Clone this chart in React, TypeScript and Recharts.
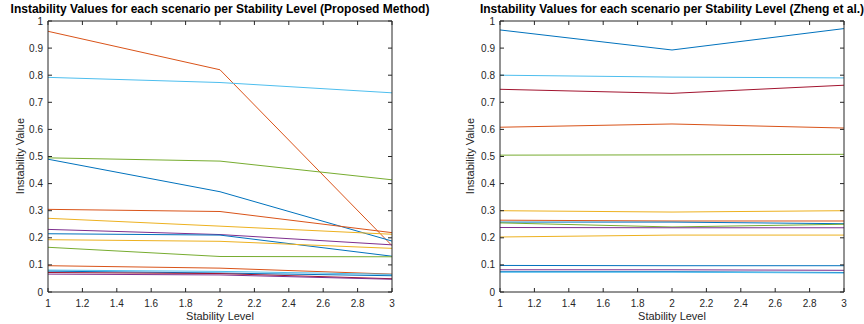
import React from 'react';
import { LineChart, Line, XAxis, YAxis } from 'recharts';

// ---- data ----
const stabilityLevels = [1, 2, 3];
const xTicks = [1, 1.2, 1.4, 1.6, 1.8, 2, 2.2, 2.4, 2.6, 2.8, 3];
const yTicks = [0, 0.1, 0.2, 0.3, 0.4, 0.5, 0.6, 0.7, 0.8, 0.9, 1];

// Proposed Method
const p1 = [0.962, 0.82, 0.171];
const p2 = [0.792, 0.773, 0.735];
const p3 = [0.495, 0.483, 0.414];
const p4 = [0.49, 0.37, 0.188];
const p5 = [0.305, 0.297, 0.219];
const p6 = [0.272, 0.243, 0.213];
const p7 = [0.231, 0.212, 0.174];
const p8 = [0.215, 0.21, 0.132];
const p9 = [0.193, 0.187, 0.161];
const p10 = [0.165, 0.131, 0.13];
const p11 = [0.097, 0.088, 0.066];
const p12 = [0.081, 0.076, 0.065];
const p13 = [0.077, 0.07, 0.06];
const p14 = [0.072, 0.068, 0.049];
const p15 = [0.066, 0.063, 0.047];

// Zheng et al.
const z1 = [0.967, 0.893, 0.972];
const z2 = [0.8, 0.793, 0.79];
const z3 = [0.748, 0.733, 0.763];
const z4 = [0.608, 0.62, 0.605];
const z5 = [0.505, 0.506, 0.508];
const z6 = [0.3, 0.295, 0.3];
const z7 = [0.265, 0.262, 0.262];
const z8 = [0.258, 0.258, 0.252];
const z9 = [0.255, 0.24, 0.25];
const z10 = [0.238, 0.237, 0.237];
const z11 = [0.203, 0.21, 0.21];
const z12 = [0.098, 0.097, 0.097];
const z13 = [0.082, 0.082, 0.08];
const z14 = [0.075, 0.075, 0.072];
const z15 = [0.073, 0.073, 0.07];

const proposedSeries = [p1, p2, p3, p4, p5, p6, p7, p8, p9, p10, p11, p12, p13, p14, p15];
const zhengSeries = [z1, z2, z3, z4, z5, z6, z7, z8, z9, z10, z11, z12, z13, z14, z15];

// ---- styles ----
const BLUE = '#0072BD';
const ORANGE = '#D95319';
const YELLOW = '#EDB120';
const PURPLE = '#7E2F8E';
const GREEN = '#77AC30';
const LBLUE = '#4DBEEE';
const DRED = '#A2142F';

const proposedColors = [ORANGE, LBLUE, GREEN, BLUE, ORANGE, YELLOW, PURPLE, BLUE, YELLOW, GREEN, ORANGE, LBLUE, BLUE, DRED, PURPLE];
const zhengColors = [BLUE, LBLUE, DRED, ORANGE, GREEN, YELLOW, ORANGE, BLUE, GREEN, PURPLE, YELLOW, BLUE, PURPLE, BLUE, LBLUE];

const AX = '#262626';
const FONT = '"Liberation Sans", Arial, Helvetica, sans-serif';

function buildRows(series: number[][]) {
  return stabilityLevels.map((x, i) => {
    const row: Record<string, number> = { x };
    series.forEach((s, k) => {
      row['s' + k] = s[i];
    });
    return row;
  });
}

const fmt = (v: number) => String(Math.round(v * 10) / 10);

const BottomTick = (props: any) => {
  const { x, y, payload } = props;
  return (
    <g>
      <line x1={x} y1={y} x2={x} y2={y - 4} stroke={AX} strokeWidth={1} />
      <text x={x} y={y + 14.5} textAnchor="middle" fontSize={10} fill={AX} fontFamily={FONT}>
        {fmt(payload.value)}
      </text>
    </g>
  );
};
const TopTick = (props: any) => {
  const { x, y } = props;
  return <line x1={x} y1={y} x2={x} y2={y + 4} stroke={AX} strokeWidth={1} />;
};
const LeftTick = (props: any) => {
  const { x, y, payload } = props;
  return (
    <g>
      <line x1={x} y1={y} x2={x + 4} y2={y} stroke={AX} strokeWidth={1} />
      <text x={x - 5} y={y + 3.5} textAnchor="end" fontSize={10} fill={AX} fontFamily={FONT}>
        {fmt(payload.value)}
      </text>
    </g>
  );
};
const RightTick = (props: any) => {
  const { x, y } = props;
  return <line x1={x} y1={y} x2={x - 4} y2={y} stroke={AX} strokeWidth={1} />;
};

type PanelProps = {
  left: number;
  title: string;
  series: number[][];
  colors: string[];
  margin: { top: number; right: number; bottom: number; left: number };
  labelX: number;
  yLabelX: number;
};

function Panel({ left, title, series, colors, margin, labelX, yLabelX }: PanelProps) {
  const rows = buildRows(series);
  const W = 432;
  const H = 324;
  return (
    <div style={{ position: 'absolute', left, top: 0, width: W, height: H }}>
      <LineChart width={W} height={H} data={rows} margin={margin}>
        <XAxis
          dataKey="x"
          type="number"
          domain={[1, 3]}
          ticks={xTicks}
          allowDataOverflow
          height={20}
          tickSize={0}
          tickMargin={0}
          tickLine={false}
          axisLine={{ stroke: AX }}
          tick={<BottomTick />}
          interval={0}
        />
        <XAxis
          xAxisId="top"
          orientation="top"
          dataKey="x"
          type="number"
          domain={[1, 3]}
          ticks={xTicks}
          allowDataOverflow
          height={1}
          tickSize={0}
          tickMargin={0}
          tickLine={false}
          axisLine={{ stroke: AX }}
          tick={<TopTick />}
          interval={0}
        />
        <YAxis
          type="number"
          domain={[0, 1]}
          ticks={yTicks}
          allowDataOverflow
          width={30}
          tickSize={0}
          tickMargin={0}
          tickLine={false}
          axisLine={{ stroke: AX }}
          tick={<LeftTick />}
          interval={0}
        />
        <YAxis
          yAxisId="right"
          orientation="right"
          type="number"
          domain={[0, 1]}
          ticks={yTicks}
          allowDataOverflow
          width={1}
          tickSize={0}
          tickMargin={0}
          tickLine={false}
          axisLine={{ stroke: AX }}
          tick={<RightTick />}
          interval={0}
        />
        {series.map((_, k) => (
          <Line
            key={k}
            dataKey={'s' + k}
            stroke={colors[k]}
            strokeWidth={1}
            dot={false}
            activeDot={false}
            isAnimationActive={false}
            type="linear"
          />
        ))}
      </LineChart>
      <div
        style={{
          position: 'absolute',
          left: labelX - 250,
          width: 500,
          top: 2,
          textAlign: 'center',
          fontFamily: FONT,
          fontWeight: 'bold',
          fontSize: 12,
          lineHeight: '14px',
          color: '#000',
          whiteSpace: 'nowrap',
        }}
      >
        {title}
      </div>
      <div
        style={{
          position: 'absolute',
          left: labelX - 100,
          width: 200,
          top: 309,
          textAlign: 'center',
          fontFamily: FONT,
          fontSize: 11,
          lineHeight: '14px',
          color: AX,
        }}
      >
        Stability Level
      </div>
      <div
        style={{
          position: 'absolute',
          left: yLabelX - 60,
          width: 120,
          top: 149,
          height: 14,
          textAlign: 'center',
          fontFamily: FONT,
          fontSize: 11,
          lineHeight: '14px',
          color: AX,
          transform: 'rotate(-90deg)',
        }}
      >
        Instability Value
      </div>
    </div>
  );
}

export default function App() {
  return (
    <div style={{ position: 'absolute', left: 0, top: 0, width: 864, height: 324, background: '#fff', overflow: 'hidden' }}>
      <Panel
        left={0}
        title="Instability Values for each scenario per Stability Level (Proposed Method)"
        series={proposedSeries}
        colors={proposedColors}
        margin={{ top: 20, right: 39, bottom: 12, left: 18 }}
        labelX={220}
        yLabelX={20}
      />
      <Panel
        left={432}
        title="Instability Values for each scenario per Stability Level (Zheng et al.)"
        series={zhengSeries}
        colors={zhengColors}
        margin={{ top: 20, right: 19, bottom: 12, left: 38 }}
        labelX={240}
        yLabelX={38}
      />
    </div>
  );
}
